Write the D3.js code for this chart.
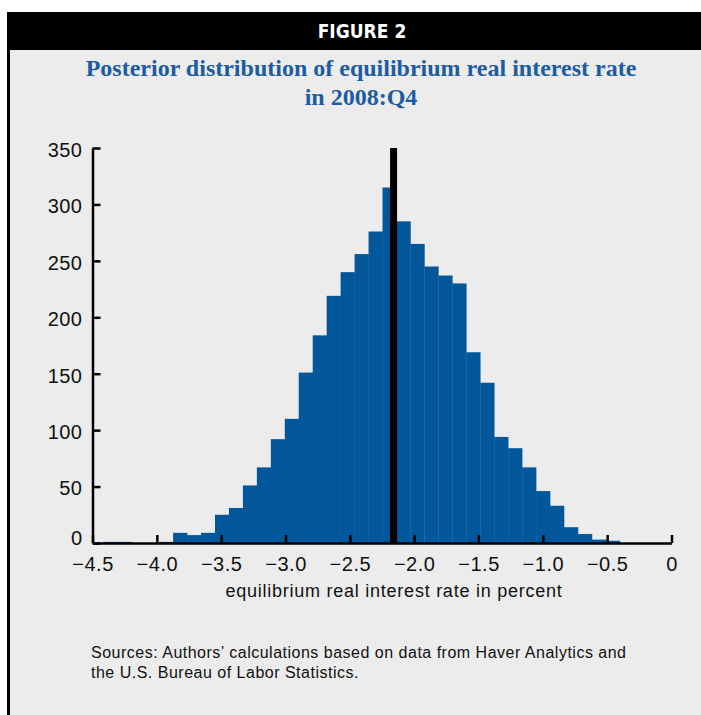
<!DOCTYPE html>
<meta charset="utf-8">
<style>
	body { margin:0; background:#fff; }
	svg { display:block; }
</style>
<script src="https://d3js.org/d3.v7.min.js"></script>
<body>
<script>
	// histogram counts, read bin by bin from left to right
	var counts = [1, 1, 0, 0, 1, 9, 7, 9, 25, 31, 51, 67, 92, 110, 151, 184, 219, 240, 256, 276,
		315, 285, 265, 245, 237, 230, 169, 142, 94, 84, 67, 46, 33, 14, 8, 3, 2];
	var binStart = -4.416;   // lower edge of the first bin, percent
	var binWidth = 0.1085;   // bin width, percent
	var meanRate = -2.16;    // the black vertical line
	var xTicks = [-4.5, -4.0, -3.5, -3.0, -2.5, -2.0, -1.5, -1.0, -0.5, 0];
	var yTicks = [0, 50, 100, 150, 200, 250, 300, 350];

	var figLabel = "FIGURE 2";
	var titleLines = ["Posterior distribution of equilibrium real interest rate", "in 2008:Q4"];
	var xTitle = "equilibrium real interest rate in percent";
	var sourceLines = ["Sources: Authors\u2019 calculations based on data from Haver Analytics and",
		"the U.S. Bureau of Labor Statistics."];

	var width = 701, height = 715;
	var svg = d3.select("body").append("svg")
		.attr("width", width)
		.attr("height", height);

	// panel, header band, left rule
	svg.append("rect").attr("x", 8).attr("y", 12).attr("width", width - 8).attr("height", height - 12)
		.attr("fill", "#ececec");
	svg.append("rect").attr("x", 8).attr("y", 12).attr("width", width - 8).attr("height", 38)
		.attr("fill", "#000");
	svg.append("rect").attr("x", 7).attr("y", 12).attr("width", 3).attr("height", height - 12)
		.attr("fill", "#000");

	svg.append("text")
		.attr("x", 362).attr("y", 38)
		.attr("text-anchor", "middle")
		.attr("fill", "#fff")
		.style("font-family", "'Liberation Sans Narrow', 'DejaVu Sans Condensed', sans-serif")
		.style("font-weight", "bold")
		.style("font-size", "19px")
		.text(figLabel);

	svg.selectAll(".title").data(titleLines).enter().append("text")
		.attr("class", "title")
		.attr("x", 361)
		.attr("y", function(d, i) { return 76 + i * 29; })
		.attr("text-anchor", "middle")
		.attr("fill", "#1b5ca3")
		.style("font-family", "'Liberation Serif', 'Times New Roman', serif")
		.style("font-weight", "bold")
		.style("font-size", "24px")
		.text(function(d) { return d; });

	var x = d3.scaleLinear().domain([-4.5, 0]).range([92.5, 671.5]);
	var y = d3.scaleLinear().domain([0, 350]).range([543, 148]);

	var bins = counts.map(function(c, i) {
		return { x0: binStart + i * binWidth, x1: binStart + (i + 1) * binWidth, n: c };
	});

	svg.selectAll(".bar").data(bins).enter().append("rect")
		.attr("class", "bar")
		.attr("x", function(d) { return x(d.x0); })
		.attr("width", function(d) { return x(d.x1) - x(d.x0) + 0.3; })
		.attr("y", function(d) { return y(d.n); })
		.attr("height", function(d) { return y(0) - y(d.n); })
		.attr("fill", "#02569a");

	svg.append("line")
		.attr("x1", x(meanRate)).attr("x2", x(meanRate))
		.attr("y1", y(350)).attr("y2", y(0))
		.attr("stroke", "#000")
		.attr("stroke-width", 7);

	var numFont = "'Liberation Sans', Arial, sans-serif";

	var yAxis = svg.append("g")
		.attr("transform", "translate(" + x(-4.5) + ",0)")
		.call(d3.axisLeft(y).tickValues(yTicks).tickSizeInner(-8).tickSizeOuter(0).tickPadding(10)
			.tickFormat(d3.format("d")));
	var xAxis = svg.append("g")
		.attr("transform", "translate(0," + y(0) + ")")
		.call(d3.axisBottom(x).tickValues(xTicks).tickSizeInner(-8).tickSizeOuter(0).tickPadding(14)
			.tickFormat(function(d) { return d === 0 ? "0" : d3.format(".1f")(d); }));

	[yAxis, xAxis].forEach(function(g) {
		g.select(".domain").attr("stroke", "#000").attr("stroke-width", 2.5);
		g.selectAll(".tick line").attr("stroke", "#000").attr("stroke-width", 2.5);
		g.selectAll(".tick text")
			.attr("fill", "#111")
			.style("font-family", numFont)
			.style("font-size", "20px")
			.style("letter-spacing", "0.5px");
	});
	yAxis.selectAll(".tick text").attr("dy", "0.42em");
	// the zero label sits a little above its tick, clear of the x labels
	yAxis.selectAll(".tick text").filter(function(d) { return d === 0; }).attr("y", -7);

	svg.append("text")
		.attr("x", 394).attr("y", 597)
		.attr("text-anchor", "middle")
		.attr("fill", "#111")
		.style("font-family", numFont)
		.style("font-size", "18px")
		.style("letter-spacing", "0.75px")
		.text(xTitle);

	svg.selectAll(".src").data(sourceLines).enter().append("text")
		.attr("class", "src")
		.attr("x", 91)
		.attr("y", function(d, i) { return 658 + i * 20; })
		.attr("fill", "#111")
		.style("font-family", numFont)
		.style("font-size", "16px")
		.style("letter-spacing", "0.5px")
		.text(function(d) { return d; });
</script>
</body>
